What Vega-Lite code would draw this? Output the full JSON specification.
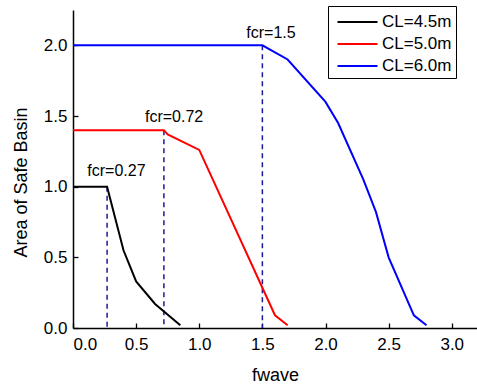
{
  "$schema": "https://vega.github.io/schema/vega-lite/v6.json",
  "autosize": {"type": "none"},
  "padding": {"left": 73, "top": 10, "right": 0, "bottom": 57},
  "width": 404,
  "height": 318,
  "background": "white",
  "config": {
    "view": {"stroke": null},
    "font": "Liberation Sans",
    "axis": {
      "grid": false,
      "domainColor": "black",
      "domainWidth": 1.5,
      "tickColor": "black",
      "tickWidth": 1.3,
      "tickSize": -5,
      "labelFont": "Liberation Sans",
      "labelFontSize": 17,
      "labelColor": "black",
      "titleFont": "Liberation Sans",
      "titleFontSize": 18,
      "titleFontWeight": "normal",
      "titleColor": "black"
    }
  },
  "datasets": {
    "curves": [
      {"CL": "CL=4.5m", "fwave": 0.0, "area": 1.0},
      {"CL": "CL=4.5m", "fwave": 0.27, "area": 1.0},
      {"CL": "CL=4.5m", "fwave": 0.4, "area": 0.55},
      {"CL": "CL=4.5m", "fwave": 0.5, "area": 0.33},
      {"CL": "CL=4.5m", "fwave": 0.65, "area": 0.17},
      {"CL": "CL=4.5m", "fwave": 0.85, "area": 0.02},
      {"CL": "CL=5.0m", "fwave": 0.0, "area": 1.4},
      {"CL": "CL=5.0m", "fwave": 0.72, "area": 1.4},
      {"CL": "CL=5.0m", "fwave": 0.75, "area": 1.37},
      {"CL": "CL=5.0m", "fwave": 1.0, "area": 1.26},
      {"CL": "CL=5.0m", "fwave": 1.6, "area": 0.09},
      {"CL": "CL=5.0m", "fwave": 1.7, "area": 0.02},
      {"CL": "CL=6.0m", "fwave": 0.0, "area": 2.0},
      {"CL": "CL=6.0m", "fwave": 1.5, "area": 2.0},
      {"CL": "CL=6.0m", "fwave": 1.7, "area": 1.9},
      {"CL": "CL=6.0m", "fwave": 2.0, "area": 1.6},
      {"CL": "CL=6.0m", "fwave": 2.1, "area": 1.45},
      {"CL": "CL=6.0m", "fwave": 2.3, "area": 1.05},
      {"CL": "CL=6.0m", "fwave": 2.4, "area": 0.82},
      {"CL": "CL=6.0m", "fwave": 2.5, "area": 0.5},
      {"CL": "CL=6.0m", "fwave": 2.7, "area": 0.09},
      {"CL": "CL=6.0m", "fwave": 2.8, "area": 0.02}
    ],
    "crit": [
      {"fwave": 0.27, "top": 1.0, "base": 0},
      {"fwave": 0.72, "top": 1.4, "base": 0},
      {"fwave": 1.5, "top": 2.0, "base": 0}
    ],
    "notes": [
      {"label": "fcr=0.27", "fwave": 0.113, "area": 1.076},
      {"label": "fcr=0.72", "fwave": 0.57, "area": 1.458},
      {"label": "fcr=1.5", "fwave": 1.373, "area": 2.054}
    ]
  },
  "layer": [
    {
      "data": {"name": "crit"},
      "mark": {"type": "rule", "color": "#1a1a9a", "strokeWidth": 1.5, "strokeDash": [5, 4]},
      "encoding": {
        "x": {"field": "fwave", "type": "quantitative", "title": "fwave"},
        "y": {"field": "top", "type": "quantitative", "title": "Area of Safe Basin"},
        "y2": {"field": "base"}
      }
    },
    {
      "data": {"name": "curves"},
      "mark": {"type": "line", "strokeWidth": 2},
      "encoding": {
        "x": {
          "field": "fwave", "type": "quantitative",
          "scale": {"domain": [0, 3.2], "nice": false, "zero": false},
          "title": "fwave",
          "axis": {
            "values": [0, 0.25, 0.5, 0.75, 1, 1.25, 1.5, 1.75, 2, 2.25, 2.5, 2.75, 3],
            "labelExpr": "datum.value % 0.5 === 0 ? format(datum.value, '.1f') : ''",
            "labelPadding": 13,
            "titlePadding": 14
          }
        },
        "y": {
          "field": "area", "type": "quantitative",
          "scale": {"domain": [0, 2.25], "nice": false},
          "title": "Area of Safe Basin",
          "axis": {
            "values": [0, 0.25, 0.5, 0.75, 1, 1.25, 1.5, 1.75, 2, 2.25],
            "labelExpr": "datum.value % 0.5 === 0 ? format(datum.value, '.1f') : ''",
            "labelPadding": 11,
            "titlePadding": 13,
            "titleY": 172
          }
        },
        "color": {
          "field": "CL", "type": "nominal",
          "scale": {"domain": ["CL=4.5m", "CL=5.0m", "CL=6.0m"], "range": ["#000000", "#ff0000", "#0000ff"]},
          "legend": {
            "title": null,
            "orient": "none",
            "legendX": 255,
            "legendY": -4,
            "symbolType": "M-0.62,0H3.19",
            "symbolSize": 441,
            "symbolStrokeWidth": 2.2,
            "labelFontSize": 17,
            "labelFont": "Liberation Sans",
            "labelColor": "black",
            "strokeColor": "black",
            "fillColor": "white",
            "padding": 4,
            "rowPadding": 2,
            "labelOffset": 26
          }
        }
      }
    },
    {
      "data": {"name": "notes"},
      "mark": {"type": "text", "align": "left", "baseline": "alphabetic", "fontSize": 16, "font": "Liberation Sans", "color": "black"},
      "encoding": {
        "x": {"field": "fwave", "type": "quantitative", "title": "fwave"},
        "y": {"field": "area", "type": "quantitative", "title": "Area of Safe Basin"},
        "text": {"field": "label"}
      }
    }
  ]
}
